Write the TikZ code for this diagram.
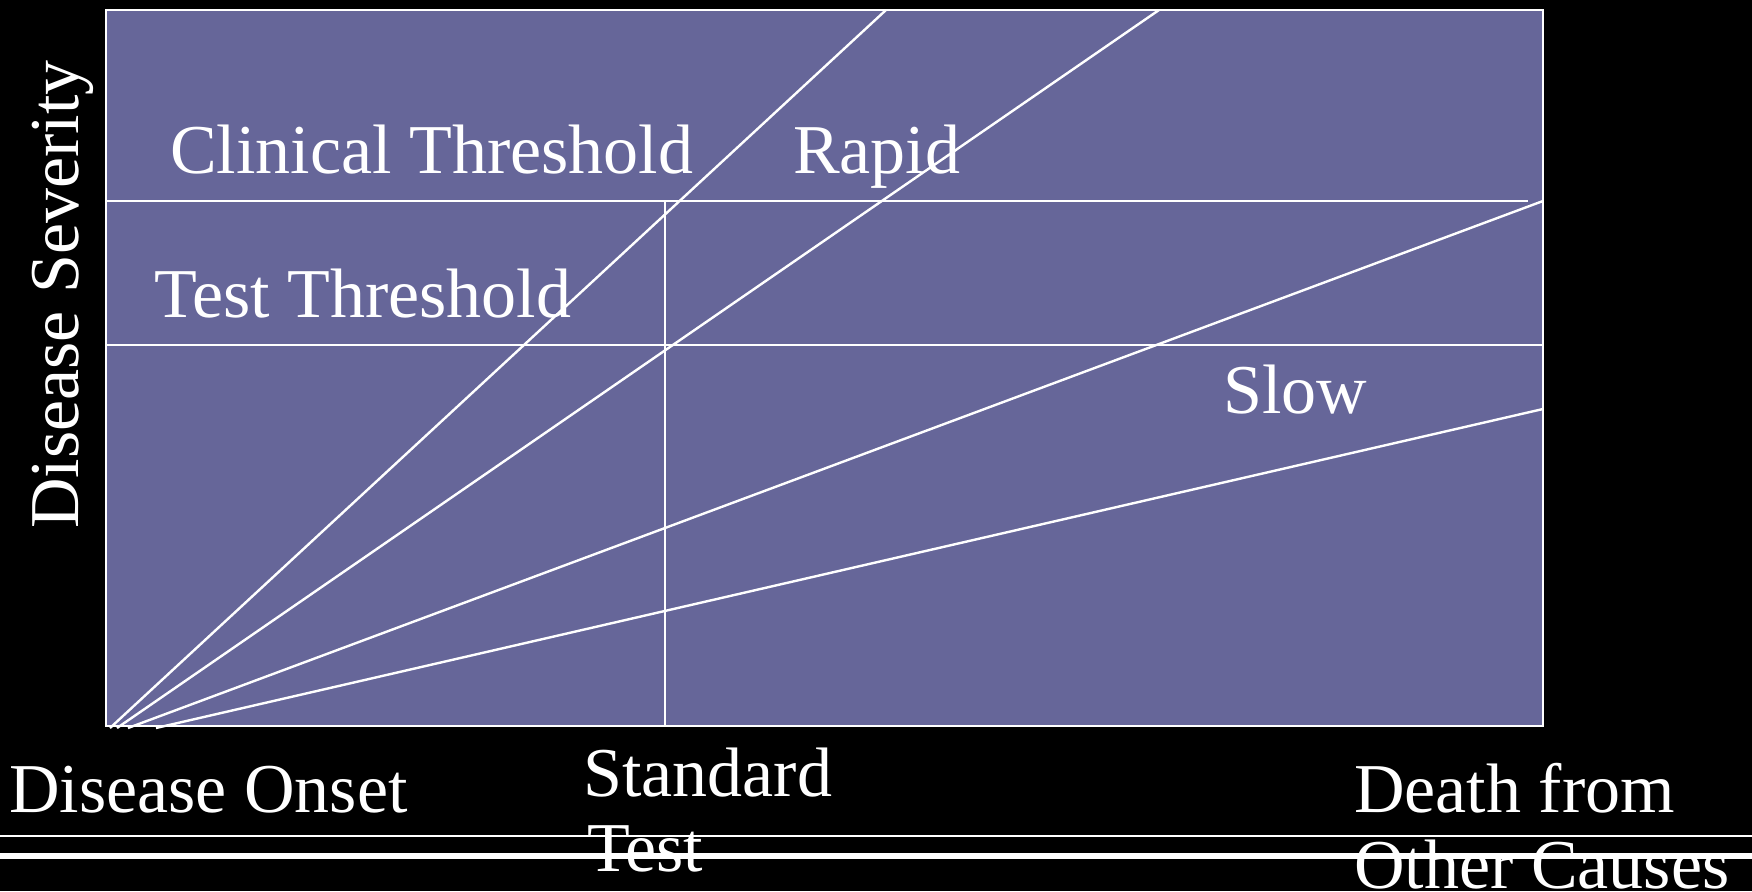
\documentclass[tikz,border=0pt]{standalone}
\usepackage{fontspec}
\setmainfont{Liberation Serif}
\definecolor{panel}{RGB}{102,102,153}
\begin{document}
\begin{tikzpicture}[x=1pt,y=-1pt,
  lbl/.style={text=white,inner sep=0pt,anchor=base west,font=\fontsize{70}{76}\selectfont},
  wline/.style={draw=white,line width=2.4pt}]
\useasboundingbox (0,0) rectangle (1752,891);
\fill[black] (0,0) rectangle (1752,891);
% panel
\coordinate (TL) at (106,10);
\coordinate (BR) at (1543,726);
\filldraw[fill=panel,wline] (TL) rectangle (BR);
% thresholds
\coordinate (c1) at (106,201); \coordinate (c2) at (1528,201);
\coordinate (t1) at (106,345); \coordinate (t2) at (1543,345);
\draw[wline] (c1) -- (c2);
\draw[wline] (t1) -- (t2);
% standard test
\coordinate (s1) at (665,201); \coordinate (s2) at (665,726);
\draw[wline] (s1) -- (s2);
% rays
\coordinate (o1) at (110,728); \coordinate (e1) at (886,10);
\coordinate (o2) at (117,728); \coordinate (e2) at (1159,10);
\coordinate (o3) at (128,728); \coordinate (e3) at (1543,201);
\coordinate (o4) at (156,728); \coordinate (e4) at (1543,409);
\draw[wline] (o1) -- (e1);
\draw[wline] (o2) -- (e2);
\draw[wline] (o3) -- (e3);
\draw[wline] (o4) -- (e4);
% labels
\node[lbl] (clin) at (170,173) {Clinical Threshold};
\node[lbl] (rapid) at (793,173) {Rapid};
\node[lbl] (test) at (154,317) {Test Threshold};
\node[lbl] (slow) at (1223,413) {Slow};
\node[lbl] (onset) at (9,812) {Disease Onset};
\node[lbl] (std) at (583,796) {Standard};
\node[lbl] (std2) at (587,871) {Test};
\node[lbl] (death) at (1354,812) {Death from};
\node[lbl] (death2) at (1354,888) {Other Causes};
\node[lbl,rotate=90] (sev) at (78,529) {Disease Severity};
% bottom rules
\coordinate (b1) at (0,836); \coordinate (b2) at (1752,836);
\coordinate (b3) at (0,856); \coordinate (b4) at (1752,856);
\draw[white,line width=2pt] (b1) -- (b2);
\draw[white,line width=6pt] (b3) -- (b4);
\end{tikzpicture}
\end{document}
